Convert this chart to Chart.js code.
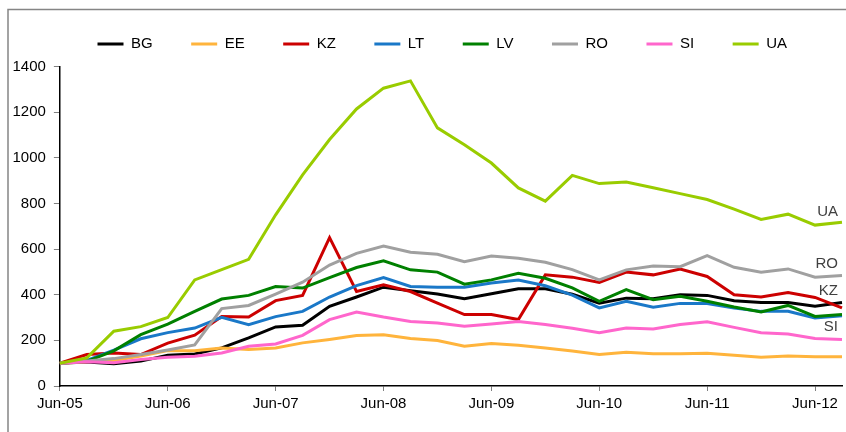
<!DOCTYPE html>
<html>
<head>
<meta charset="utf-8">
<script src="https://cdn.jsdelivr.net/npm/chart.js"></script>
<style>
    body { margin: 0; background: #ffffff; }
    #wrap { width: 846px; height: 432px; position: relative; }
</style>
</head>
<body>
<div id="wrap"><canvas id="myChart"></canvas></div>
<script>
"use strict"

// Quarterly index, Jun-05 = 100
const quarters = [
    "Jun-05", "Sep-05", "Dec-05", "Mar-06", "Jun-06", "Sep-06", "Dec-06", "Mar-07",
    "Jun-07", "Sep-07", "Dec-07", "Mar-08", "Jun-08", "Sep-08", "Dec-08", "Mar-09",
    "Jun-09", "Sep-09", "Dec-09", "Mar-10", "Jun-10", "Sep-10", "Dec-10", "Mar-11",
    "Jun-11", "Sep-11", "Dec-11", "Mar-12", "Jun-12", "Sep-12"
];

const bgValues = [100, 105, 97, 109, 135, 140, 167, 211, 259, 266, 349, 390, 433, 417, 403, 382, 404, 426, 426, 402, 363, 385, 382, 400, 397, 374, 366, 366, 349, 366];
const eeValues = [100, 106, 112, 131, 155, 155, 167, 160, 167, 189, 204, 221, 225, 208, 199, 174, 186, 179, 167, 153, 138, 148, 141, 141, 144, 135, 126, 131, 128, 128];
const kzValues = [100, 138, 145, 138, 188, 223, 305, 302, 374, 397, 650, 414, 443, 414, 363, 313, 313, 291, 487, 477, 454, 499, 487, 512, 480, 400, 390, 410, 388, 342];
const ltValues = [100, 112, 157, 207, 234, 254, 301, 269, 304, 327, 390, 440, 475, 436, 433, 433, 451, 464, 439, 398, 342, 371, 345, 362, 361, 342, 327, 327, 298, 308];
const lvValues = [100, 108, 154, 225, 271, 327, 381, 397, 436, 429, 475, 519, 549, 509, 499, 446, 465, 494, 472, 430, 371, 422, 378, 393, 371, 346, 324, 353, 305, 313];
const roValues = [100, 110, 120, 138, 158, 180, 339, 353, 403, 455, 530, 581, 613, 586, 577, 545, 570, 560, 542, 510, 465, 509, 526, 523, 571, 520, 499, 513, 477, 484];
const siValues = [100, 106, 102, 116, 126, 130, 145, 174, 184, 222, 291, 324, 302, 283, 276, 262, 272, 283, 269, 253, 233, 254, 250, 269, 281, 257, 233, 228, 208, 204];
const uaValues = [100, 123, 240, 260, 300, 465, 510, 555, 750, 925, 1080, 1214, 1305, 1337, 1131, 1057, 977, 868, 810, 923, 887, 894, 869, 843, 817, 775, 730, 753, 705, 718];

const seriesNames = ["BG", "EE", "KZ", "LT", "LV", "RO", "SI", "UA"];
const seriesValues = [bgValues, eeValues, kzValues, ltValues, lvValues, roValues, siValues, uaValues];
const seriesColors = ["#000000", "#FFB43C", "#CC0000", "#1A78C8", "#008000", "#A0A0A0", "#FF66CC", "#99CC00"];

// series that get a name written at the right end of the line
const endLabels = ["UA", "RO", "KZ", "SI"];

const yTicks = [0, 200, 400, 600, 800, 1000, 1200, 1400];

const fontFamily = "'Liberation Sans', Arial, sans-serif";

(function CreateChart() {
    const ctx = document.getElementById('myChart');

    let datasets = seriesNames.map((name, i) => ({
        label: name,
        data: seriesValues[i],
        borderColor: seriesColors[i],
        backgroundColor: seriesColors[i],
        borderWidth: 3,
        pointRadius: 0,
        tension: 0,
        // later series drawn on top, like the original
        order: seriesNames.length - i
    }));

    // grey frame of the chart object (only top and left edge are visible)
    const chartFrame = {
        id: 'chartFrame',
        beforeDraw(chart) {
            const c = chart.ctx;
            c.save();
            c.strokeStyle = "#858585";
            c.lineWidth = 1.5;
            c.strokeRect(8, 9.5, chart.width + 10, chart.height + 10);
            c.restore();
        },
        afterLayout(chart) {
            // pull the legend up a bit and move it to the right
            chart.legend.top -= 5;
            chart.legend.bottom -= 5;
            chart.legend.left += 17.5;
            chart.legend.right += 17.5;
        }
    };

    // names next to the end of some lines
    const lineNames = {
        id: 'lineNames',
        afterDatasetsDraw(chart) {
            const c = chart.ctx;
            c.save();
            c.font = "15px " + fontFamily;
            c.fillStyle = "#404040";
            c.textAlign = "right";
            c.textBaseline = "middle";
            endLabels.forEach(name => {
                const idx = seriesNames.indexOf(name);
                const pts = chart.getDatasetMeta(idx).data;
                const last = pts[pts.length - 1];
                const prev = pts[pts.length - 2];
                const y = (last.y + prev.y) / 2 - 12;
                c.fillText(name, last.x - 4, y);
            });
            c.restore();
        }
    };

    new Chart(ctx, {
        type: 'line',
        data: {
            labels: quarters,
            datasets: datasets
        },
        options: {
            responsive: true,
            maintainAspectRatio: false,
            animation: false,
            devicePixelRatio: 1,
            layout: {
                padding: { top: 3, left: 4.5, right: 1, bottom: 15 }
            },
            plugins: {
                tooltip: { enabled: false },
                legend: {
                    position: 'top',
                    labels: {
                        boxWidth: 26,
                        boxHeight: 3,
                        padding: 38.5,
                        color: "#000000",
                        font: { family: fontFamily, size: 15 },
                        generateLabels(chart) {
                            return chart.data.datasets.map((ds, i) => ({
                                text: ds.label,
                                fillStyle: ds.borderColor,
                                strokeStyle: ds.borderColor,
                                lineWidth: 0,
                                hidden: false,
                                datasetIndex: i
                            }));
                        }
                    }
                }
            },
            scales: {
                x: {
                    type: 'category',
                    offset: false,
                    grid: {
                        display: true,
                        drawOnChartArea: false,
                        drawTicks: true,
                        tickLength: 5,
                        offset: false,
                        tickColor: c => (c.index % 4 === 0 ? "#808080" : "rgba(0,0,0,0)")
                    },
                    border: { display: true, color: "#000000", width: 1.5 },
                    ticks: {
                        autoSkip: false,
                        maxRotation: 0,
                        minRotation: 0,
                        padding: 4,
                        color: "#000000",
                        font: { family: fontFamily, size: 15 },
                        callback: function (value, index) {
                            const lbl = quarters[index];
                            return lbl.startsWith("Jun") ? lbl : "";
                        }
                    }
                },
                y: {
                    min: yTicks[0],
                    max: yTicks[yTicks.length - 1],
                    afterBuildTicks(scale) {
                        scale.ticks = yTicks.map(v => ({ value: v }));
                    },
                    grid: {
                        display: true,
                        drawOnChartArea: false,
                        drawTicks: true,
                        tickLength: 6,
                        tickColor: "#808080"
                    },
                    border: { display: true, color: "#000000", width: 1.5 },
                    ticks: {
                        padding: 8,
                        color: "#000000",
                        font: { family: fontFamily, size: 15 },
                        callback: value => String(value)
                    }
                }
            }
        },
        plugins: [chartFrame, lineNames]
    });
}())
</script>
</body>
</html>
